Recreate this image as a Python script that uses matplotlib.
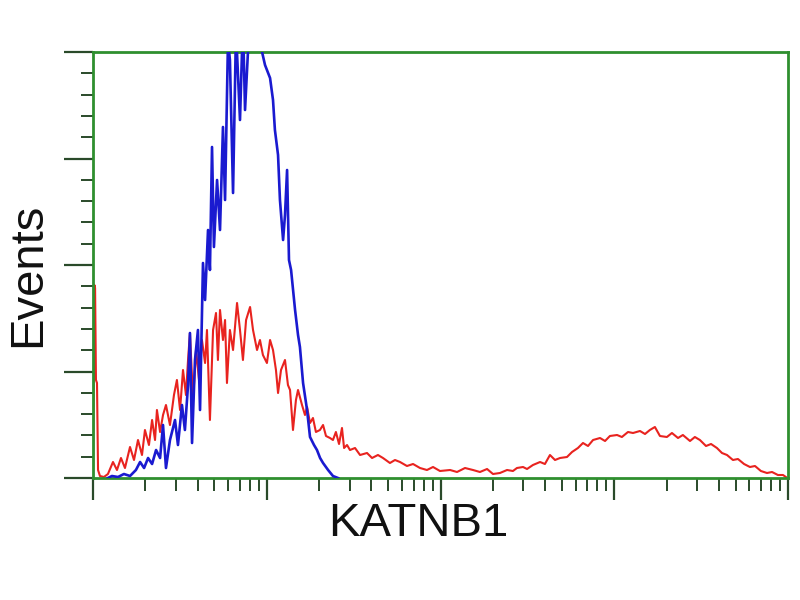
import matplotlib
matplotlib.use("Agg")
import matplotlib.pyplot as plt
import numpy as np
from matplotlib.ticker import FixedLocator, LogLocator, NullFormatter, MultipleLocator, AutoMinorLocator

# ---- data (log10 fluorescence, events) ----
blue_log = [0.086, 0.109, 0.144, 0.178, 0.213, 0.247, 0.271, 0.294, 0.317, 0.340,
            0.363, 0.386, 0.403, 0.420, 0.443, 0.472, 0.489, 0.512, 0.529, 0.547,
            0.558, 0.570, 0.587, 0.604, 0.616, 0.633, 0.645, 0.662, 0.673, 0.685,
            0.696, 0.714, 0.731, 0.748, 0.760, 0.777, 0.788, 0.806, 0.823, 0.846,
            0.863, 0.875, 0.904, 0.932, 0.973, 0.990, 1.019, 1.036, 1.047, 1.065,
            1.076, 1.094, 1.105, 1.117, 1.128, 1.140, 1.163, 1.180, 1.191, 1.209,
            1.232, 1.249, 1.272, 1.289, 1.307, 1.324, 1.353, 1.381, 1.410]
blue_events = [0, 2, 1, 4, 2, 8, 16, 10, 20, 14,
               28, 20, 53, 10, 38, 58, 33, 73, 48, 93,
               145, 35, 118, 148, 68, 215, 178, 248, 208, 331,
               231, 298, 248, 351, 278, 438, 418, 285, 448, 358,
               458, 368, 468, 463, 426, 413, 400, 378, 348, 323,
               278, 238, 263, 308, 218, 208, 168, 143, 131, 95,
               68, 41, 33, 28, 20, 15, 8, 2, 0]

red_log = [0.000, 0.008, 0.012, 0.017, 0.023, 0.029, 0.040, 0.063, 0.086, 0.115, 0.138,
           0.161, 0.184, 0.213, 0.236, 0.259, 0.282, 0.299, 0.322, 0.340, 0.357,
           0.368, 0.386, 0.403, 0.420, 0.443, 0.466, 0.483, 0.501, 0.518, 0.535,
           0.547, 0.558, 0.576, 0.593, 0.610, 0.627, 0.645, 0.656, 0.673, 0.691,
           0.708, 0.719, 0.731, 0.748, 0.760, 0.771, 0.788, 0.806, 0.829, 0.846,
           0.863, 0.881, 0.904, 0.921, 0.944, 0.961, 0.978, 1.001, 1.019, 1.036,
           1.053, 1.065, 1.082, 1.105, 1.122, 1.134, 1.151, 1.168, 1.180, 1.203,
           1.220, 1.232, 1.249, 1.266, 1.283, 1.306, 1.324, 1.341, 1.364, 1.381,
           1.398, 1.416, 1.433, 1.445, 1.462, 1.479, 1.508, 1.537, 1.577, 1.606,
           1.640, 1.669, 1.709, 1.738, 1.767, 1.807, 1.842, 1.882, 1.922, 1.957,
           1.997, 2.055, 2.095, 2.141, 2.187, 2.227, 2.268, 2.302, 2.342, 2.383,
           2.417, 2.440, 2.475, 2.498, 2.532, 2.573, 2.601, 2.630, 2.659, 2.688,
           2.728, 2.757, 2.791, 2.820, 2.849, 2.878, 2.918, 2.947, 2.975, 3.016,
           3.044, 3.079, 3.108, 3.148, 3.177, 3.205, 3.234, 3.263, 3.303, 3.332,
           3.367, 3.395, 3.436, 3.464, 3.493, 3.528, 3.557, 3.591, 3.620, 3.649,
           3.683, 3.712, 3.747, 3.781, 3.810, 3.844, 3.879, 3.908, 3.942, 3.971,
           3.988]
red_events = [0, 193, 190, 98, 95, 8, 2, 1, 4, 16, 8,
              20, 10, 31, 18, 38, 23, 48, 33, 58, 38,
              68, 46, 63, 73, 53, 83, 98, 68, 108, 83,
              118, 145, 78, 128, 98, 138, 115, 148, 58, 148,
              165, 118, 168, 138, 158, 95, 148, 128, 175, 148,
              118, 158, 171, 148, 128, 138, 123, 115, 138, 128,
              108, 85, 108, 118, 93, 88, 48, 78, 88, 73,
              63, 71, 55, 60, 46, 48, 53, 42, 40, 38,
              46, 34, 50, 30, 33, 28, 30, 23, 25, 20,
              23, 20, 15, 18, 16, 12, 14, 10, 8, 11,
              7, 8, 6, 10, 8, 6, 9, 4, 5, 8,
              7, 10, 11, 9, 13, 16, 14, 23, 18, 20,
              21, 26, 30, 35, 32, 38, 40, 37, 42, 43,
              41, 46, 45, 47, 44, 48, 51, 42, 41, 45,
              40, 43, 37, 41, 38, 32, 34, 30, 25, 23,
              18, 19, 14, 11, 12, 7, 5, 6, 3, 3,
              1]

Y_MAX = 426
X_LABEL = "KATNB1"
Y_LABEL = "Events"

GREEN = "#2f8f2f"
TICKC = "#2a4a2a"

fig = plt.figure(figsize=(8, 6), dpi=100)
fig.patch.set_facecolor("white")
ax = fig.add_axes([93/800, 1-478/600, (788-93)/800, (478-52)/600])

ax.plot(10**np.array(red_log), red_events, color="#e8231f", lw=1.5, zorder=2)
ax.plot(10**np.array(blue_log), blue_events, color="#1a1ad0", lw=1.9, zorder=3)

ax.set_xscale("log")
ax.set_xlim(1, 1e4)
ax.set_ylim(0, Y_MAX)

ax.xaxis.set_major_locator(FixedLocator([1, 10, 100, 1000, 10000]))
ax.xaxis.set_minor_locator(LogLocator(base=10, subs=np.arange(2, 10)))
ax.xaxis.set_major_formatter(NullFormatter())
ax.xaxis.set_minor_formatter(NullFormatter())
ax.yaxis.set_major_locator(MultipleLocator(Y_MAX/4))
ax.yaxis.set_minor_locator(AutoMinorLocator(5))
ax.yaxis.set_major_formatter(NullFormatter())

ax.tick_params(axis="x", which="major", direction="out", length=16, width=1.6, color=TICKC)
ax.tick_params(axis="x", which="minor", direction="out", length=9, width=1.4, color=TICKC)
ax.tick_params(axis="y", which="major", direction="out", length=21, width=1.6, color=TICKC)
ax.tick_params(axis="y", which="minor", direction="out", length=9, width=1.4, color=TICKC)

for s in ax.spines.values():
    s.set_color(GREEN)
    s.set_linewidth(2)

fig.text(418/800, 1-524/600, X_LABEL, ha="center", va="center",
         fontsize=34, family=["Liberation Sans", "DejaVu Sans"], color="#111111")
fig.text(28/800, 1-275/600, Y_LABEL, ha="center", va="center", rotation=90,
         fontsize=34, family=["Liberation Sans", "DejaVu Sans"], color="#111111")

fig.savefig("out.png", dpi=100, facecolor="white")
